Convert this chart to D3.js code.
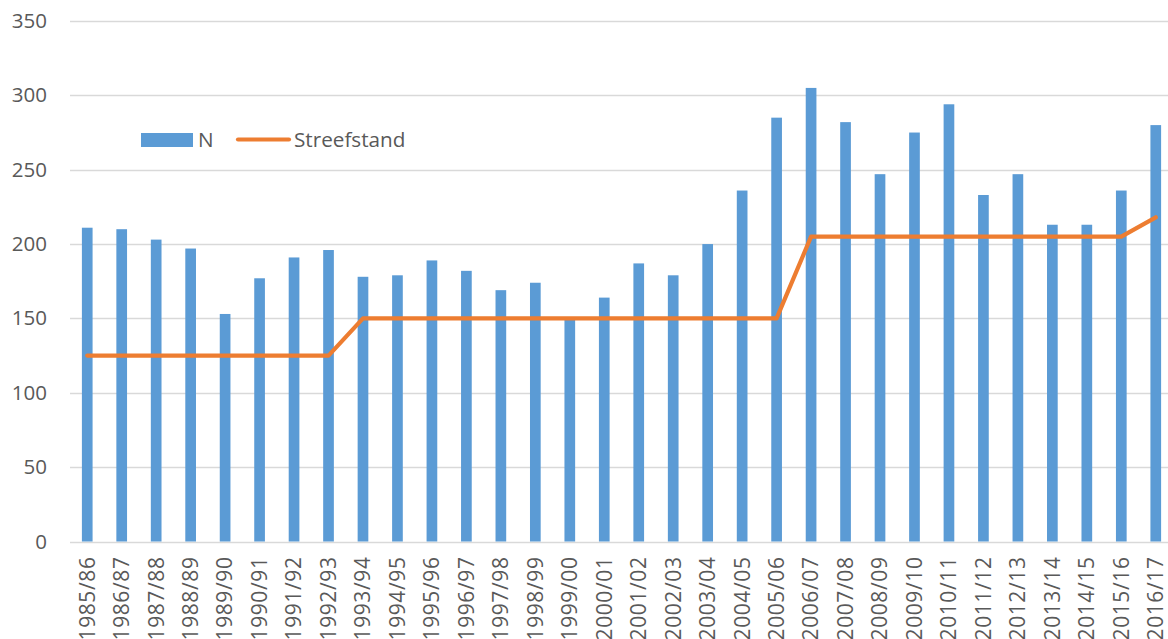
<!DOCTYPE html>
<html><head><meta charset="utf-8">
<script src="https://cdn.jsdelivr.net/npm/d3@7"></script>
<style>html,body{margin:0;padding:0;background:#fff;overflow:hidden}</style>
</head><body>
<svg id="c" width="1168" height="639"></svg>
<script>
const categories = ["1985/86","1986/87","1987/88","1988/89","1989/90","1990/91","1991/92","1992/93","1993/94","1994/95","1995/96","1996/97","1997/98","1998/99","1999/00","2000/01","2001/02","2002/03","2003/04","2004/05","2005/06","2006/07","2007/08","2008/09","2009/10","2010/11","2011/12","2012/13","2013/14","2014/15","2015/16","2016/17"];
const valuesN = [211,210,203,197,153,177,191,196,178,179,189,182,169,174,149,164,187,179,200,236,285,305,282,247,275,294,233,247,213,213,236,280];
const valuesStreefstand = [125,125,125,125,125,125,125,125,150,150,150,150,150,150,150,150,150,150,150,150,150,205,205,205,205,205,205,205,205,205,205,218];
const yTicks = [0,50,100,150,200,250,300,350];
const seriesNames = ["N","Streefstand"];

const svg = d3.select("#c");
const font = "'Open Sans', sans-serif";
const x = d3.scaleBand().domain(categories).range([70, 1173]).paddingInner(0.69).paddingOuter(0.345);
const y = d3.scaleLinear().domain([0, 350]).range([541.5, 21]);

// gridlines
svg.append("g").selectAll("line").data(yTicks).join("line")
  .attr("x1", 70).attr("x2", 1168)
  .attr("y1", d => Math.round(y(d)) + 0.5).attr("y2", d => Math.round(y(d)) + 0.5)
  .attr("stroke", "#d9d9d9").attr("stroke-width", 1.3);

// y axis labels
const yAxis = d3.axisLeft(y).tickValues(yTicks).tickSize(0).tickPadding(0);
const ya = svg.append("g").attr("transform", "translate(47,0)").call(yAxis);
ya.select(".domain").remove();
ya.selectAll("text").attr("font-family", font).attr("font-size", 20.5).attr("fill", "#595959");

// bars
svg.append("g").selectAll("rect").data(valuesN).join("rect")
  .attr("x", (d, i) => x(categories[i]))
  .attr("width", x.bandwidth())
  .attr("y", d => y(d))
  .attr("height", d => y(0) - y(d))
  .attr("fill", "#5b9bd5");

// line
const line = d3.line()
  .x((d, i) => x(categories[i]) + x.bandwidth() / 2)
  .y(d => y(d));
svg.append("path").datum(valuesStreefstand)
  .attr("d", line).attr("fill", "none")
  .attr("stroke", "#ed7d31").attr("stroke-width", 4.2)
  .attr("stroke-linecap", "round").attr("stroke-linejoin", "round");

// x axis labels
const xAxis = d3.axisBottom(x).tickSize(0).tickPadding(0);
const xa = svg.append("g").attr("transform", "translate(0,541.5)").call(xAxis);
xa.select(".domain").remove();
xa.selectAll("text")
  .attr("font-family", font).attr("font-size", 21).attr("fill", "#595959")
  .attr("letter-spacing", "0.6px")
  .attr("text-anchor", "end")
  .attr("transform", "rotate(-90)")
  .attr("x", -15).attr("y", 0).attr("dy", "0.35em");

// legend
const lg = svg.append("g");
lg.append("rect").attr("x", 141).attr("y", 133).attr("width", 52).attr("height", 14).attr("fill", "#5b9bd5");
lg.append("text").attr("x", 198).attr("y", 140).attr("dy", "0.35em").text(seriesNames[0])
  .attr("font-family", font).attr("font-size", 20.7).attr("fill", "#595959");
lg.append("line").attr("x1", 238).attr("x2", 289).attr("y1", 139.5).attr("y2", 139.5)
  .attr("stroke", "#ed7d31").attr("stroke-width", 4.2).attr("stroke-linecap", "round");
lg.append("text").attr("x", 294).attr("y", 140).attr("dy", "0.35em").text(seriesNames[1])
  .attr("font-family", font).attr("font-size", 20.7).attr("fill", "#595959");
</script>
</body></html>
